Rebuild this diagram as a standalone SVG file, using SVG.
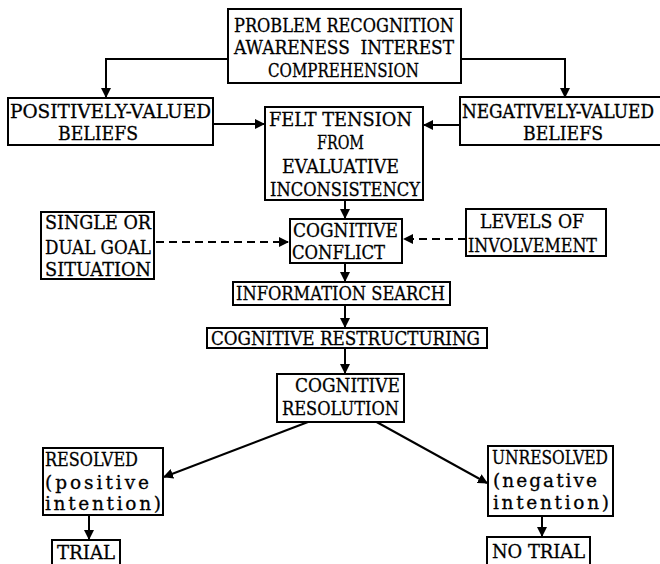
<svg xmlns="http://www.w3.org/2000/svg" width="660" height="564" viewBox="0 0 660 564">
<style>
  .box { fill: #fff; stroke: #000; stroke-width: 2; }
  .t { font-family: "DejaVu Serif", "Liberation Serif", serif; font-size: 18.5px; fill: #000; stroke: #000; stroke-width: 0.3; }
  .ln { fill: none; stroke: #000; stroke-width: 2; }
  .dash { fill: none; stroke: #000; stroke-width: 2; stroke-dasharray: 8 5; }
</style>
<defs>
  <marker id="ah" viewBox="0 0 10 10" refX="9" refY="5" markerWidth="5" markerHeight="5" orient="auto" markerUnits="strokeWidth">
    <path d="M0,0 L10,5 L0,10 Z" fill="#000"/>
  </marker>
</defs>
<rect width="660" height="564" fill="#fff"/>

<g id="connectors">
  <path class="ln" d="M228,59 H106 V97" marker-end="url(#ah)"/>
  <path class="ln" d="M461,59 H565 V97" marker-end="url(#ah)"/>
  <path class="ln" d="M213,124 H264" marker-end="url(#ah)"/>
  <path class="ln" d="M460,125 H424" marker-end="url(#ah)"/>
  <path class="ln" d="M345,200 V218" marker-end="url(#ah)"/>
  <path class="dash" d="M156,242 H288" marker-end="url(#ah)"/>
  <path class="dash" d="M466,239 H404" marker-end="url(#ah)"/>
  <path class="ln" d="M345,263 V281" marker-end="url(#ah)"/>
  <path class="ln" d="M345,305 V327" marker-end="url(#ah)"/>
  <path class="ln" d="M345,348 V373" marker-end="url(#ah)"/>
  <path class="ln" d="M308,422 L164,477" marker-end="url(#ah)"/>
  <path class="ln" d="M373,420 L487,483" marker-end="url(#ah)"/>
  <path class="ln" d="M89,515 V539" marker-end="url(#ah)"/>
  <path class="ln" d="M542,516 V536" marker-end="url(#ah)"/>
</g>

<g id="problem">
  <rect class="box" x="228" y="9" width="233" height="74"/>
  <text class="t" x="234" y="32" textLength="220" lengthAdjust="spacingAndGlyphs">PROBLEM RECOGNITION</text>
  <text class="t" x="234" y="54" textLength="220" lengthAdjust="spacingAndGlyphs" xml:space="preserve">AWARENESS  INTEREST</text>
  <text class="t" x="268" y="77" textLength="151" lengthAdjust="spacingAndGlyphs">COMPREHENSION</text>
</g>

<g id="positive">
  <rect class="box" x="8" y="98" width="205" height="47"/>
  <text class="t" x="10" y="118" textLength="201" lengthAdjust="spacingAndGlyphs">POSITIVELY-VALUED</text>
  <text class="t" x="58" y="140" textLength="80" lengthAdjust="spacingAndGlyphs">BELIEFS</text>
</g>

<g id="negative">
  <rect class="box" x="460" y="97" width="205" height="48"/>
  <text class="t" transform="translate(462,118) scale(1,1.16)" x="0" y="0" style="font-size:16px" textLength="192" lengthAdjust="spacingAndGlyphs">NEGATIVELY-VALUED</text>
  <text class="t" x="523" y="140" textLength="80" lengthAdjust="spacingAndGlyphs">BELIEFS</text>
</g>

<g id="felt">
  <rect class="box" x="265" y="107" width="158" height="93"/>
  <text class="t" x="269" y="126" textLength="143" lengthAdjust="spacingAndGlyphs">FELT TENSION</text>
  <text class="t" x="317" y="149" textLength="47" lengthAdjust="spacingAndGlyphs">FROM</text>
  <text class="t" x="282" y="173" textLength="117" lengthAdjust="spacingAndGlyphs">EVALUATIVE</text>
  <text class="t" x="270" y="196" textLength="150" lengthAdjust="spacingAndGlyphs">INCONSISTENCY</text>
</g>

<g id="single">
  <rect class="box" x="41" y="212" width="113" height="67"/>
  <text class="t" x="45" y="229" textLength="106" lengthAdjust="spacingAndGlyphs">SINGLE OR</text>
  <text class="t" x="45" y="254" textLength="106" lengthAdjust="spacingAndGlyphs">DUAL GOAL</text>
  <text class="t" x="45" y="276" textLength="106" lengthAdjust="spacingAndGlyphs">SITUATION</text>
</g>

<g id="conflict">
  <rect class="box" x="290" y="219" width="112" height="44"/>
  <text class="t" x="293" y="237" textLength="105" lengthAdjust="spacingAndGlyphs">COGNITIVE</text>
  <text class="t" x="292" y="259" textLength="93" lengthAdjust="spacingAndGlyphs">CONFLICT</text>
</g>

<g id="levels">
  <rect class="box" x="466" y="209" width="140" height="47"/>
  <text class="t" x="480" y="228" textLength="104" lengthAdjust="spacingAndGlyphs">LEVELS OF</text>
  <text class="t" x="468" y="252" textLength="129" lengthAdjust="spacingAndGlyphs">INVOLVEMENT</text>
</g>

<g id="search">
  <rect class="box" x="233" y="282" width="217" height="23"/>
  <text class="t" x="236" y="300" textLength="209" lengthAdjust="spacingAndGlyphs">INFORMATION SEARCH</text>
</g>

<g id="restructuring">
  <rect class="box" x="207" y="328" width="280" height="20"/>
  <text class="t" x="211" y="345" textLength="269" lengthAdjust="spacingAndGlyphs">COGNITIVE RESTRUCTURING</text>
</g>

<g id="resolution">
  <rect class="box" x="277" y="374" width="127" height="48"/>
  <text class="t" x="295" y="392" textLength="105" lengthAdjust="spacingAndGlyphs">COGNITIVE</text>
  <text class="t" x="282" y="415" textLength="117" lengthAdjust="spacingAndGlyphs">RESOLUTION</text>
</g>

<g id="resolved">
  <rect class="box" x="43" y="448" width="120" height="67"/>
  <text class="t" x="45" y="466" textLength="93" lengthAdjust="spacingAndGlyphs">RESOLVED</text>
  <text class="t" x="45" y="489" textLength="104" lengthAdjust="spacing">(positive</text>
  <text class="t" x="45" y="510" textLength="116" lengthAdjust="spacing">intention)</text>
</g>

<g id="unresolved">
  <rect class="box" x="488" y="446" width="125" height="70"/>
  <text class="t" x="492" y="464" textLength="116" lengthAdjust="spacingAndGlyphs">UNRESOLVED</text>
  <text class="t" x="493" y="487" textLength="104" lengthAdjust="spacing">(negative</text>
  <text class="t" x="493" y="509" textLength="116" lengthAdjust="spacing">intention)</text>
</g>

<g id="trial">
  <rect class="box" x="52" y="540" width="68" height="30"/>
  <text class="t" x="57" y="559" textLength="58" lengthAdjust="spacingAndGlyphs">TRIAL</text>
</g>

<g id="notrial">
  <rect class="box" x="487" y="537" width="103" height="33"/>
  <text class="t" x="492" y="558" textLength="93" lengthAdjust="spacingAndGlyphs">NO TRIAL</text>
</g>
</svg>
